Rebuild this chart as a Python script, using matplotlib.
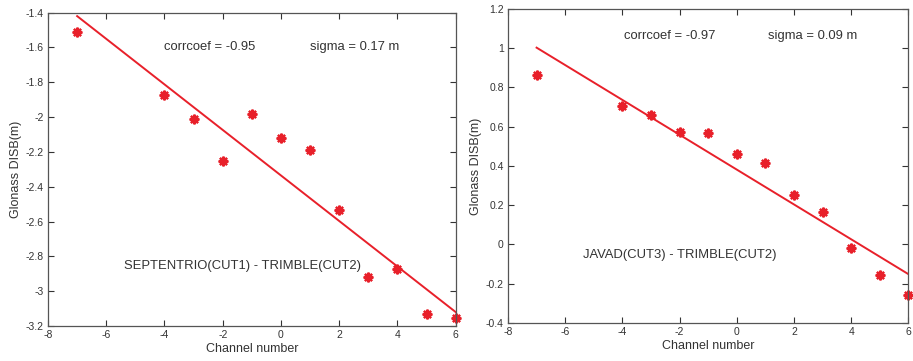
import matplotlib.pyplot as plt
import numpy as np

plt.rcParams['font.family'] = ['Liberation Sans', 'DejaVu Sans']
plt.rcParams['axes.unicode_minus'] = False

channel = [-7, -4, -3, -2, -1, 0, 1, 2, 3, 4, 5, 6]

# SEPTENTRIO(CUT1) - TRIMBLE(CUT2)
disb_sept = [-1.51, -1.875, -2.01, -2.25, -1.98, -2.12, -2.19, -2.535, -2.92, -2.875, -3.13, -3.155]
fit_sept_x = [-7, 6]
fit_sept_y = [-1.42, -3.12]

# JAVAD(CUT3) - TRIMBLE(CUT2)
disb_javad = [0.865, 0.705, 0.657, 0.574, 0.569, 0.462, 0.416, 0.251, 0.166, -0.021, -0.157, -0.259]
fit_javad_x = [-7, 6]
fit_javad_y = [1.003, -0.152]

red = '#e8202a'
ink = '#333333'

fig = plt.figure(figsize=(9.13, 3.61), dpi=100)
ax1 = fig.add_axes([0.0526, 0.097, 0.4465, 0.868])
ax2 = fig.add_axes([0.5564, 0.106, 0.4385, 0.869])


def style(ax, ylim, yticks):
    ax.set_xlim(-8, 6)
    ax.set_ylim(*ylim)
    ax.set_xticks(np.arange(-8, 7, 2))
    ax.set_yticks(yticks)
    ax.set_yticklabels(['%g' % v for v in yticks])
    ax.tick_params(direction='in', top=True, right=True, length=4, width=0.8,
                   labelsize=7.5, colors=ink, pad=3)
    for s in ax.spines.values():
        s.set_color('#555555')
        s.set_linewidth(0.9)
    ax.set_xlabel('Channel number', fontsize=9, color=ink, labelpad=2)
    ax.set_ylabel('Glonass DISB(m)', fontsize=9, color=ink, labelpad=3)


ax1.plot(fit_sept_x, fit_sept_y, color=red, lw=1.4)
ax1.plot(channel, disb_sept, ls='none', marker=(8, 2, 0), ms=7, mew=1.6,
         color=red, clip_on=False)
style(ax1, (-3.2, -1.4), np.round(np.arange(-3.2, -1.39, 0.2), 1))
ax1.text(-4.0, -1.6, 'corrcoef = -0.95', fontsize=9.4, color=ink, va='center')
ax1.text(1.0, -1.6, 'sigma = 0.17 m', fontsize=9.4, color=ink, va='center')
ax1.text(-5.4, -2.855, 'SEPTENTRIO(CUT1) - TRIMBLE(CUT2)', fontsize=9.4,
         color=ink, va='center')

ax2.plot(fit_javad_x, fit_javad_y, color=red, lw=1.4)
ax2.plot(channel, disb_javad, ls='none', marker=(8, 2, 0), ms=7, mew=1.6,
         color=red, clip_on=False)
style(ax2, (-0.4, 1.2), np.round(np.arange(-0.4, 1.21, 0.2), 1))
ax2.text(-3.95, 1.062, 'corrcoef = -0.97', fontsize=9.4, color=ink, va='center')
ax2.text(1.1, 1.062, 'sigma = 0.09 m', fontsize=9.4, color=ink, va='center')
ax2.text(-5.38, -0.055, 'JAVAD(CUT3) - TRIMBLE(CUT2)', fontsize=9.4,
         color=ink, va='center')

fig.savefig('out.png', dpi=100, facecolor='white')
